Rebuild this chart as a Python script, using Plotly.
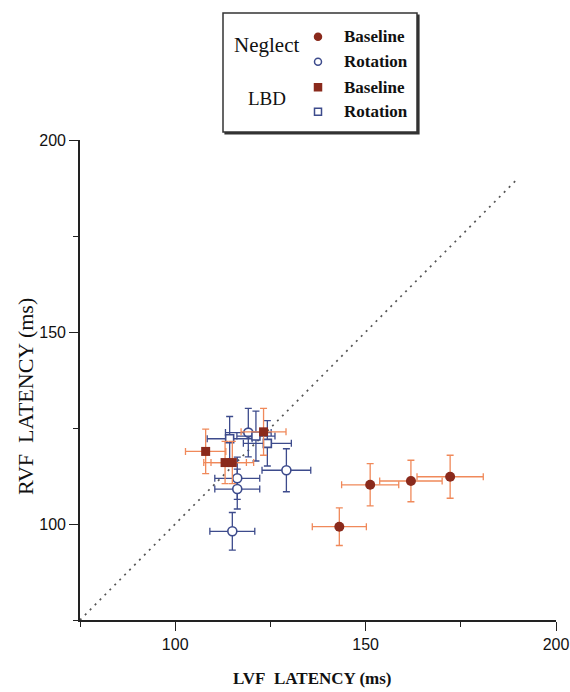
import plotly.graph_objects as go

# ---- data ----
neg_base_x = [143.1, 151.2, 161.9, 172.2]
neg_base_y = [99.3, 110.2, 111.2, 112.3]
neg_base_xerr = [7.1, 7.5, 8.2, 8.7]
neg_base_yerr = [4.9, 5.5, 5.4, 5.6]

neg_rot_x = [119.2, 129.2, 116.3, 116.3, 115.0]
neg_rot_y = [123.8, 114.0, 111.9, 109.1, 98.1]
neg_rot_xerr = [6.0, 6.4, 5.9, 5.9, 5.9]
neg_rot_yerr = [6.3, 5.6, 5.5, 5.2, 4.9]

lbd_base_x = [108.0, 113.1, 115.0, 123.2]
lbd_base_y = [118.9, 116.0, 116.0, 124.0]
lbd_base_xerr = [5.3, 5.6, 5.6, 5.9]
lbd_base_yerr = [5.8, 5.5, 5.5, 6.1]

lbd_rot_x = [114.3, 121.2, 124.2]
lbd_rot_y = [122.2, 122.9, 121.0]
lbd_rot_xerr = [5.9, 5.0, 6.3]
lbd_rot_yerr = [5.8, 6.5, 5.9]

diag = [75, 190]
tick_vals = [100, 150, 200]
tick_text = ["100", "150", "200"]

# ---- styles ----
DARKRED = "#8a2a1c"
ORANGE = "#f0895a"
BLUE = "#3d4b8c"
SERIF = "Liberation Serif, Times New Roman, serif"
SANS = "Liberation Sans, Arial, sans-serif"

W, H = 570, 692
# plot area in window pixels: x 80..556, y 140..620
ML, MT = 80, 140
MR = W - 556
MB = H - 620
PW, PH = W - ML - MR, H - MT - MB


def px(xw):
    return (xw - ML) / PW


def py(yw):
    return (H - MB - yw) / PH


fig = go.Figure()

fig.add_trace(go.Scatter(x=diag, y=diag, mode="lines",
                         line=dict(color="#555555", width=1.7, dash="2px,5px"),
                         showlegend=False, hoverinfo="skip"))


def add_series(x, y, xe, ye, symbol, size, fill, lcolor, ecolor, lw):
    fig.add_trace(go.Scatter(
        x=x, y=y, mode="markers", showlegend=False,
        marker=dict(symbol=symbol, size=size, color=fill,
                    line=dict(color=lcolor, width=lw)),
        error_x=dict(type="data", array=xe, color=ecolor, thickness=1.3, width=3.5),
        error_y=dict(type="data", array=ye, color=ecolor, thickness=1.3, width=3.5),
    ))


add_series(neg_rot_x, neg_rot_y, neg_rot_xerr, neg_rot_yerr,
           "circle", 9, "white", BLUE, BLUE, 1.6)
add_series(lbd_rot_x, lbd_rot_y, lbd_rot_xerr, lbd_rot_yerr,
           "square", 8, "white", BLUE, BLUE, 1.6)
add_series(neg_base_x, neg_base_y, neg_base_xerr, neg_base_yerr,
           "circle", 10, DARKRED, DARKRED, ORANGE, 0)
add_series(lbd_base_x, lbd_base_y, lbd_base_xerr, lbd_base_yerr,
           "square", 9, DARKRED, DARKRED, ORANGE, 0)

axis_common = dict(
    range=[75, 200], showgrid=False, zeroline=False, automargin=False,
    showline=True, linecolor="#222222", linewidth=1.6,
    ticks="outside", ticklen=9, tickwidth=1.4, tickcolor="#222222",
    tickvals=tick_vals, ticktext=tick_text,
    tickfont=dict(family=SANS, size=16, color="#111111"),
    minor=dict(tickvals=[75, 125, 175], ticks="outside", ticklen=5,
               tickwidth=1.2, tickcolor="#222222"),
)
fig.update_xaxes(**axis_common)
fig.update_yaxes(**axis_common)

shapes = []
# legend box with shadow
shapes.append(dict(type="rect", xref="paper", yref="paper",
                   x0=px(225), x1=px(419), y0=py(134), y1=py(15),
                   line=dict(color="#333333", width=1.2), fillcolor="#333333", layer="above"))
shapes.append(dict(type="rect", xref="paper", yref="paper",
                   x0=px(223), x1=px(417), y0=py(132), y1=py(13),
                   line=dict(color="#333333", width=1.5), fillcolor="white", layer="above"))

rows = [36.7, 61.7, 87.3, 111.7]
sym = [("circle", DARKRED, DARKRED), ("circle", "white", BLUE),
       ("rect", DARKRED, DARKRED), ("rect", "white", BLUE)]
for r, (kind, fill, lc) in zip(rows, sym):
    shapes.append(dict(type=kind, xref="paper", yref="paper",
                       xsizemode="pixel", ysizemode="pixel",
                       xanchor=px(318), yanchor=py(r),
                       x0=-3.5, x1=3.5, y0=-3.5, y1=3.5,
                       fillcolor=fill, line=dict(color=lc, width=1.5), layer="above"))

annotations = [
    dict(text="Neglect", x=px(266), y=py(45), xref="paper", yref="paper",
         showarrow=False, xanchor="center", yanchor="middle",
         font=dict(family=SERIF, size=21, color="#111111")),
    dict(text="LBD", x=px(267), y=py(98), xref="paper", yref="paper",
         showarrow=False, xanchor="center", yanchor="middle",
         font=dict(family=SERIF, size=19, color="#111111")),
]
for r, lab in zip(rows, ["Baseline", "Rotation", "Baseline", "Rotation"]):
    annotations.append(dict(text="<b>" + lab + "</b>", x=px(342), y=py(r),
                            xref="paper", yref="paper", showarrow=False,
                            xanchor="left", yanchor="middle",
                            font=dict(family=SERIF, size=17, color="#111111")))

annotations.append(dict(text="<b>LVF\u00a0\u00a0LATENCY (ms)</b>", x=px(312), y=py(678),
                        xref="paper", yref="paper", showarrow=False,
                        xanchor="center", yanchor="middle",
                        font=dict(family=SERIF, size=17, color="#111111")))
annotations.append(dict(text="RVF\u00a0\u00a0LATENCY (ms)", x=px(25), y=py(397),
                        xref="paper", yref="paper", showarrow=False, textangle=-90,
                        xanchor="center", yanchor="middle",
                        font=dict(family=SERIF, size=22, color="#111111")))

fig.update_layout(
    width=W, height=H,
    margin=dict(l=ML, r=MR, t=MT, b=MB, autoexpand=False),
    paper_bgcolor="white", plot_bgcolor="white",
    shapes=shapes, annotations=annotations, showlegend=False,
)

fig.write_html("out.html", config={"displayModeBar": False},
               post_script="document.body.style.margin='0';document.body.style.overflow='hidden';")
